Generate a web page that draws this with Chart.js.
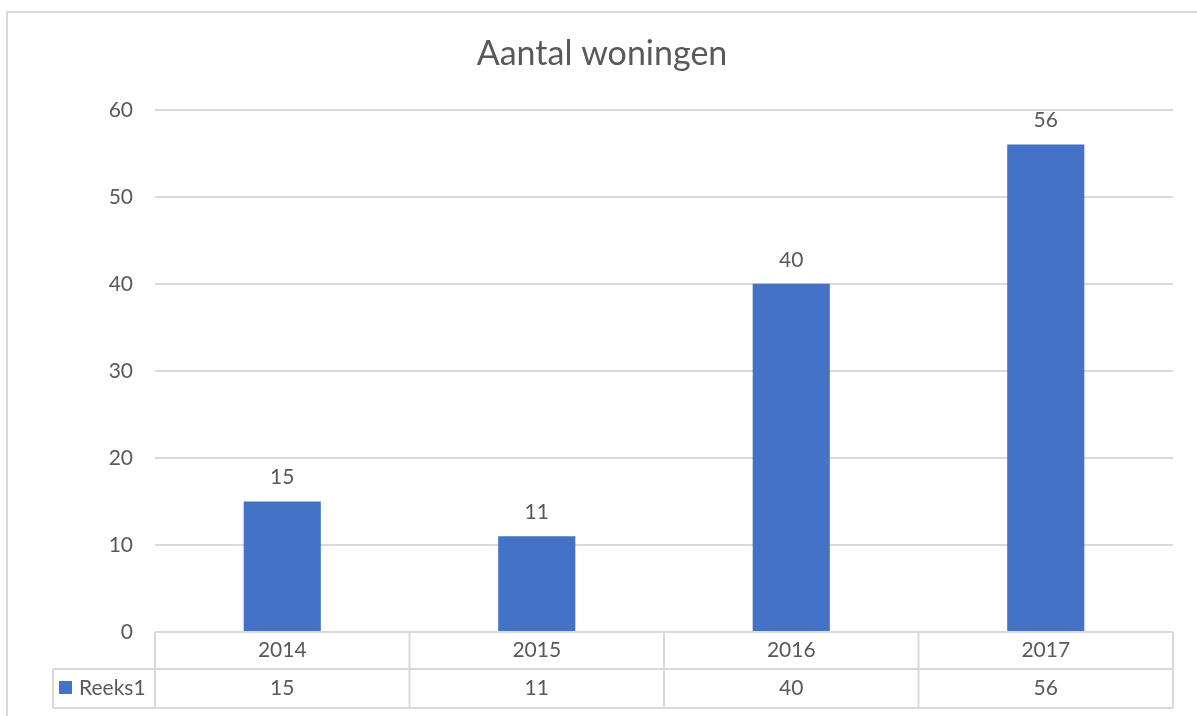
<!DOCTYPE html>
<html>
<head>
<meta charset="utf-8">
<script src="https://cdn.jsdelivr.net/npm/chart.js@4"></script>
<style>
    html, body { margin: 0; padding: 0; background: #fff; }
    #wrap { position: absolute; left: 0; top: 0; width: 1197px; height: 716px; }
</style>
</head>
<body>
<div id="wrap"><canvas id="chart"></canvas></div>
<script>
const title = 'Aantal woningen';
const years = ['2014', '2015', '2016', '2017'];
const seriesName = 'Reeks1';
const values = [15, 11, 40, 56];
const yTicks = [0, 10, 20, 30, 40, 50, 60];

const textColor = '#595959';
const lineColor = '#d9d9d9';
const barColor = '#4472C4';
const fontFamily = 'Lato, "Open Sans", sans-serif';
const labelFont = '21px ' + fontFamily;

// frame, value labels and the data table under the plot
const excelBits = {
    id: 'excelBits',
    beforeDraw(chart) {
        const ctx = chart.ctx;
        ctx.save();
        ctx.strokeStyle = lineColor;
        ctx.lineWidth = 2;
        ctx.beginPath();
        ctx.moveTo(7, 716);
        ctx.lineTo(7, 12);
        ctx.lineTo(1197, 12);
        ctx.stroke();
        ctx.restore();
    },
    afterDatasetsDraw(chart) {
        const ctx = chart.ctx;
        const meta = chart.getDatasetMeta(0);
        ctx.save();
        ctx.fillStyle = textColor;
        ctx.font = labelFont;
        ctx.textAlign = 'center';
        ctx.textBaseline = 'middle';
        meta.data.forEach((bar, i) => {
            ctx.fillText(String(values[i]), bar.x, bar.y - 24);
        });
        ctx.restore();
    },
    afterDraw(chart) {
        const ctx = chart.ctx;
        const x = chart.scales.x;
        const area = chart.chartArea;
        const band = (area.right - area.left) / years.length;
        const top = area.bottom;
        const mid = top + 37;
        const bottom = top + 76;
        const legendLeft = 53;

        ctx.save();
        ctx.strokeStyle = lineColor;
        ctx.lineWidth = 2;
        ctx.beginPath();
        // horizontal lines
        ctx.moveTo(area.left, top); ctx.lineTo(area.right, top);
        ctx.moveTo(legendLeft, mid); ctx.lineTo(area.right, mid);
        ctx.moveTo(legendLeft, bottom); ctx.lineTo(area.right, bottom);
        // vertical lines
        ctx.moveTo(legendLeft, mid); ctx.lineTo(legendLeft, bottom);
        years.forEach((y, i) => {
            const edge = x.getPixelForValue(i) - band / 2;
            ctx.moveTo(edge, top); ctx.lineTo(edge, bottom);
        });
        ctx.moveTo(area.right, top); ctx.lineTo(area.right, bottom);
        ctx.stroke();

        ctx.fillStyle = textColor;
        ctx.font = labelFont;
        ctx.textAlign = 'center';
        ctx.textBaseline = 'middle';
        years.forEach((y, i) => {
            const cx = x.getPixelForValue(i);
            ctx.fillText(y, cx, (top + mid) / 2);
            ctx.fillText(String(values[i]), cx, (mid + bottom) / 2);
        });

        // legend key
        ctx.fillStyle = barColor;
        ctx.fillRect(59, mid + 12, 13, 13);
        ctx.fillStyle = textColor;
        ctx.textAlign = 'left';
        ctx.fillText(seriesName, 79, (mid + bottom) / 2);
        ctx.restore();
    }
};

const ctx = document.getElementById('chart').getContext('2d');
new Chart(ctx, {
    type: 'bar',
    data: {
        labels: years,
        datasets: [{
            label: seriesName,
            data: values,
            backgroundColor: barColor,
            borderWidth: 0,
            categoryPercentage: 1,
            barPercentage: 0.303,
        }],
    },
    options: {
        responsive: true,
        maintainAspectRatio: false,
        animation: false,
        layout: {
            padding: { top: 12, right: 24, bottom: 0, left: 31 },
        },
        plugins: {
            legend: { display: false },
            tooltip: { enabled: false },
            title: {
                display: true,
                text: title,
                color: textColor,
                font: { family: fontFamily, size: 34, weight: 'normal' },
                padding: { top: 22, bottom: 35 },
            },
        },
        scales: {
            x: {
                grid: { display: false },
                border: { display: false },
                ticks: { display: false },
                afterFit(scale) {
                    scale.height = 84;
                },
            },
            y: {
                min: 0,
                max: 60,
                afterBuildTicks(scale) {
                    scale.ticks = yTicks.map(v => ({ value: v }));
                },
                grid: {
                    color: lineColor,
                    lineWidth: 2,
                    drawTicks: false,
                },
                border: { display: false },
                ticks: {
                    color: textColor,
                    font: { family: fontFamily, size: 21 },
                    padding: 22,
                },
                afterFit(scale) {
                    scale.width = 124;
                },
            },
        },
    },
    plugins: [excelBits],
});
</script>
</body>
</html>
